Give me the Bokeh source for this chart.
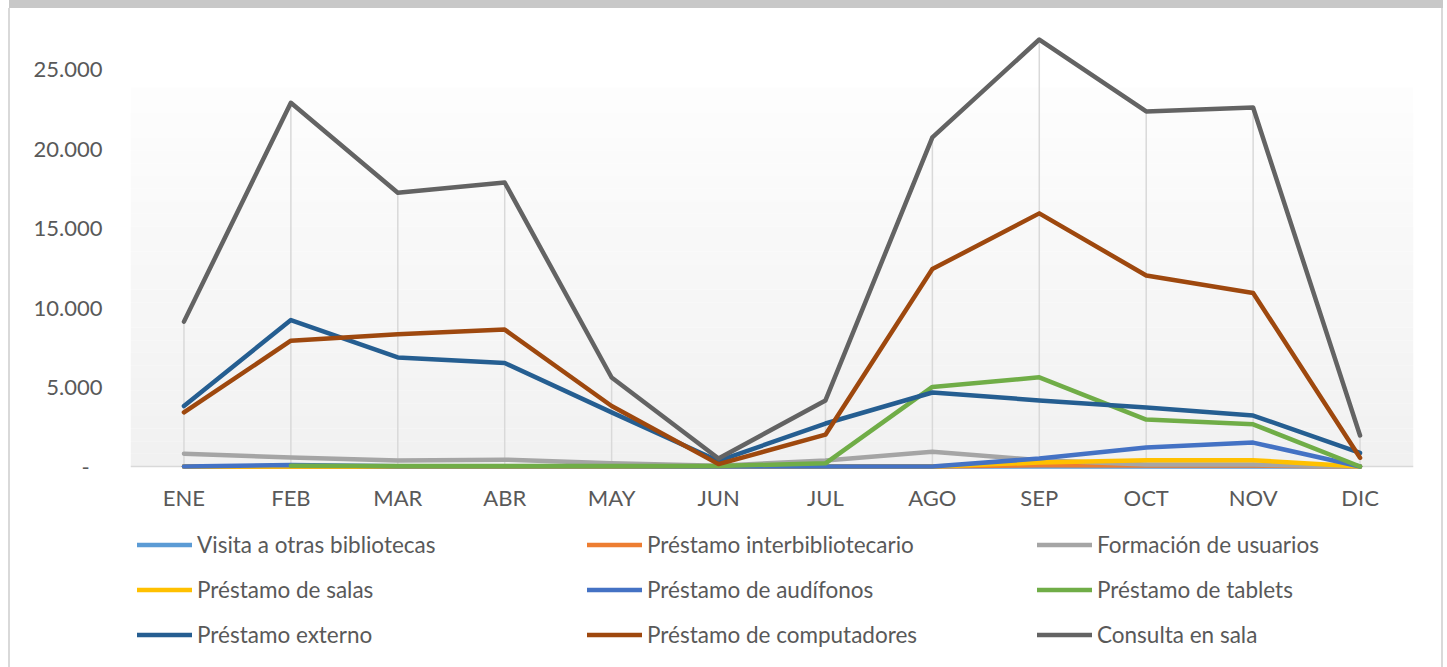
import math
from bokeh.plotting import figure
from bokeh.models import (Range1d, FactorRange, FixedTicker, CustomJSTickFormatter,
                          Legend, LegendItem, BoxAnnotation, Span)
from bokeh.core.properties import value
from bokeh.embed import file_html
from bokeh.resources import INLINE

meses = ["ENE", "FEB", "MAR", "ABR", "MAY", "JUN", "JUL", "AGO", "SEP", "OCT", "NOV", "DIC"]

visita = [0, 0, 0, 0, 0, 0, 0, 0, 0, 0, 0, 0]
interbib = [0, 0, 0, 0, 0, 0, 0, 0, 80, 60, 60, 0]
formacion = [800, 570, 380, 430, 200, 50, 380, 920, 400, 120, 120, 0]
salas = [0, 0, 0, 0, 0, 0, 0, 0, 250, 400, 400, 0]
audifonos = [0, 100, 20, 20, 20, 0, 0, 0, 500, 1200, 1500, 0]
tablets = [float("nan"), 50, 30, 30, 30, 30, 200, 5000, 5600, 2950, 2650, 0]
externo = [3800, 9200, 6850, 6500, 3400, 350, 2700, 4650, 4150, 3700, 3200, 850]
computadores = [3400, 7900, 8300, 8600, 3800, 150, 2000, 12400, 15900, 12000, 10900, 550]
consulta = [9100, 22850, 17200, 17840, 5590, 500, 4150, 20670, 26820, 22300, 22550, 1950]

y_ticks = [0, 5000, 10000, 15000, 20000, 25000]

series = [
    ("Visita a otras bibliotecas", visita, "#5b9bd5"),
    ("Préstamo interbibliotecario", interbib, "#ed7d31"),
    ("Formación de usuarios", formacion, "#a5a5a5"),
    ("Préstamo de salas", salas, "#ffc000"),
    ("Préstamo de audífonos", audifonos, "#4472c4"),
    ("Préstamo de tablets", tablets, "#70ad47"),
    ("Préstamo externo", externo, "#255e91"),
    ("Préstamo de computadores", computadores, "#9e480e"),
    ("Consulta en sala", consulta, "#636363"),
]

FONT = "Lato"
TXT = "#595959"
FS = "22px"

# layout constants (value per pixel chosen so 0 -> y=466 px, 25000 -> y=68 px)
VPP = 25000 / 398.0
W, H = 1447, 667
TOP_PX, ZERO_PX = 12, 466
Y_END = (ZERO_PX - TOP_PX) * VPP
Y_START = -(H - ZERO_PX) * VPP
LABEL_Y = -(497 - ZERO_PX) * VPP
GRAD_TOP = (ZERO_PX - 87) * VPP

p = figure(width=W, height=H, x_range=FactorRange(*meses), y_range=Range1d(Y_START, Y_END),
           output_backend="svg", toolbar_location=None,
           min_border_left=130, min_border_right=34, min_border_top=TOP_PX, min_border_bottom=0)
p.styles = {
    "background": ("linear-gradient(#c8c8c8,#c8c8c8) 9px 0px / 1434px 8px no-repeat, "
                   "linear-gradient(#d9d9d9,#d9d9d9) 8px 8px / 2px 659px no-repeat, "
                   "linear-gradient(#d9d9d9,#d9d9d9) 1441px 8px / 2px 659px no-repeat, white")
}
p.outline_line_color = None
p.background_fill_alpha = 0
p.border_fill_alpha = 0
p.grid.visible = False
p.xaxis.visible = False

# gradient of plot area
NB = 30
for i in range(NB):
    f = i / (NB - 1)
    c = int(round(0xf1 + (0xfd - 0xf1) * f))
    col = "#%02x%02x%02x" % (c, c, c)
    p.add_layout(BoxAnnotation(bottom=GRAD_TOP * i / NB, top=GRAD_TOP * (i + 1) / NB,
                               fill_color=col, fill_alpha=1.0, line_color=None, level="underlay"))

# category axis line
p.add_layout(Span(location=0, dimension="width", line_color="#d9d9d9", line_width=1.5,
                  level="underlay"))

# drop lines
tops = []
for k in range(len(meses)):
    vals = [s[1][k] for s in series if not (isinstance(s[1][k], float) and math.isnan(s[1][k]))]
    tops.append(max(vals))
p.segment(x0=meses, y0=[0] * len(meses), x1=meses, y1=tops, line_color="#d9d9d9", line_width=1.5)

items = []
for name, vals, col in series:
    r = p.line(meses, vals, line_color=col, line_width=4.5, line_join="round", line_cap="round")
    items.append(LegendItem(label=name, renderers=[r]))

# category labels
p.text(x=meses, y=[LABEL_Y] * len(meses), text=meses, text_font=value(FONT),
       text_font_size=FS, text_color=TXT, text_align="center", text_baseline="middle")

p.yaxis.ticker = FixedTicker(ticks=y_ticks)
p.yaxis.formatter = CustomJSTickFormatter(code="""
    if (tick == 0) { return "-\u2007"; }
    return tick.toFixed(0).replace(/\\B(?=(\\d{3})+(?!\\d))/g, ".");
""")
p.yaxis.axis_line_color = None
p.yaxis.major_tick_line_color = None
p.yaxis.minor_tick_line_color = None
p.yaxis.major_tick_out = 0
p.yaxis.major_tick_in = 0
p.yaxis.major_label_standoff = 28
p.yaxis.major_label_text_font = FONT
p.yaxis.major_label_text_font_size = FS
p.yaxis.major_label_text_color = TXT

legend = Legend(items=items, orientation="horizontal", ncols=3, location=(7, 10),
                glyph_width=55, glyph_height=45, label_height=45, label_width=390,
                label_standoff=5, spacing=0, padding=0, margin=0,
                border_line_alpha=0, background_fill_alpha=0,
                label_text_font=FONT, label_text_font_size="22.5px", label_text_color=TXT)
p.add_layout(legend)

open("out.html", "w").write(file_html(p, INLINE))
